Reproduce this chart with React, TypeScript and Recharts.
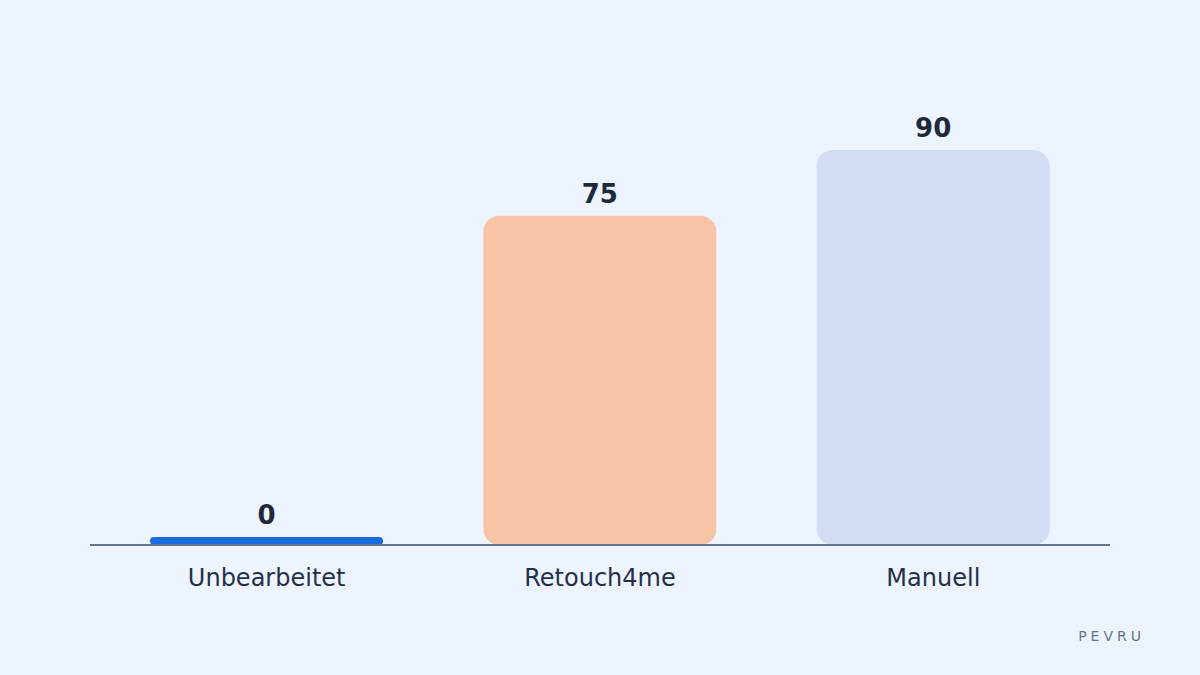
import { BarChart, Bar, XAxis, YAxis, Cell, LabelList } from 'recharts'

const categories = ['Unbearbeitet', 'Retouch4me', 'Manuell']
const values = [0, 75, 90]
const colors = ['#1c6bdc', '#f7c4a5', '#d0ddf3']

const data = categories.map((name, i) => ({ name, value: values[i] }))

const FONT = "'DejaVu Sans', sans-serif"

export default function App() {
  return (
    <div style={{
      position: 'absolute', top: 0, left: 0, width: 1200, height: 675,
      background: '#eef4ff', fontFamily: FONT,
    }}>
      <BarChart
        width={1200}
        height={675}
        data={data}
        margin={{ top: 150, right: 90, left: 90, bottom: 90 }}
      >
        <XAxis
          dataKey="name"
          padding={{ left: 10, right: 10 }}
          axisLine={{ stroke: '#64748b', strokeWidth: 2 }}
          tickLine={false}
          tickMargin={18}
          height={40}
          tick={{ fontFamily: FONT, fontSize: 24, fill: '#243047' }}
        />
        <YAxis hide domain={[0, 90]} />
        <Bar
          dataKey="value"
          barSize={233}
          radius={16}
          minPointSize={8}
          isAnimationActive={false}
        >
          {data.map((d, i) => (
            <Cell key={d.name} fill={colors[i]} />
          ))}
          <LabelList
            dataKey="value"
            position="top"
            offset={13}
            style={{ fontFamily: FONT, fontSize: 26, fontWeight: 700, fill: '#1e293b' }}
          />
        </Bar>
      </BarChart>
      <div style={{
        position: 'absolute', top: 629, right: 55,
        fontSize: 14, lineHeight: '14px', letterSpacing: 4, color: '#64748b',
      }}>
        PEVRU
      </div>
    </div>
  )
}
